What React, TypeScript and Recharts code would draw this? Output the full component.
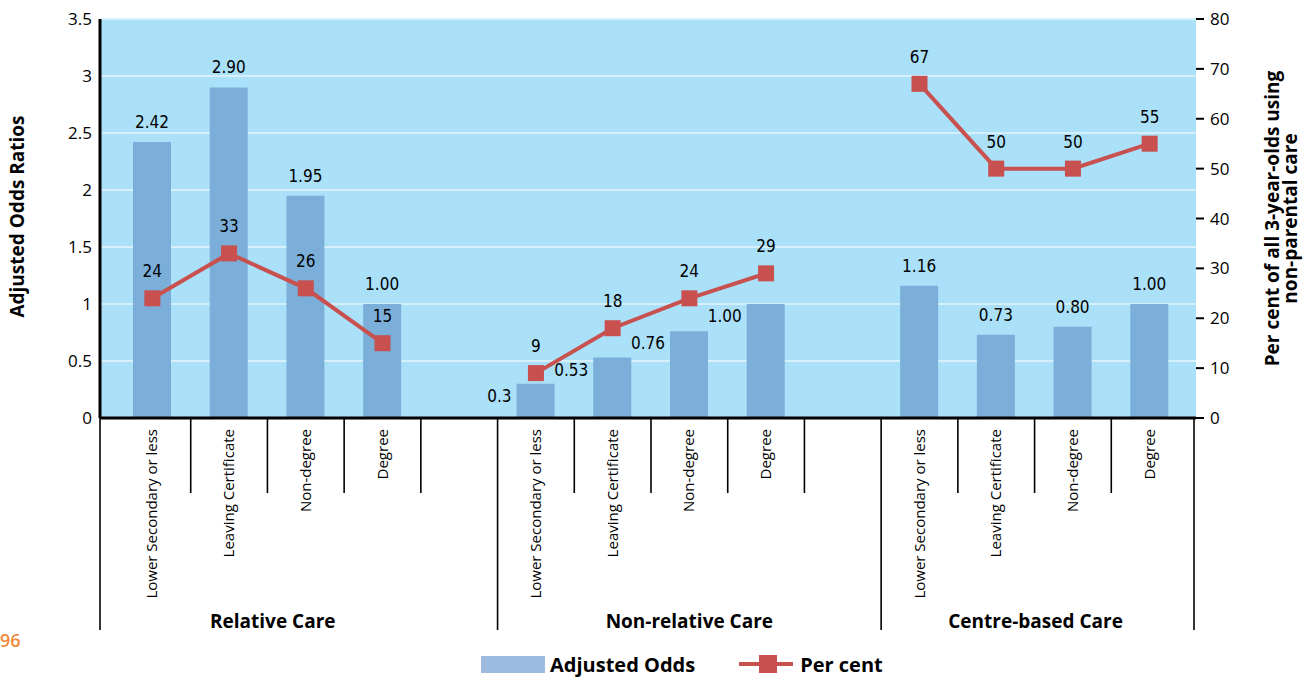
import {
  Bar,
  CartesianGrid,
  ComposedChart,
  LabelList,
  Legend,
  Line,
  XAxis,
  YAxis,
} from "recharts";

const groups = ["Relative Care", "Non-relative Care", "Centre-based Care"];
const levels = ["Lower Secondary or less", "Leaving Certificate", "Non-degree", "Degree"];

// adjusted odds ratios, kept as printed on the chart
const oddsRelative = ["2.42", "2.90", "1.95", "1.00"];
const oddsNonRelative = ["0.3", "0.53", "0.76", "1.00"];
const oddsCentre = ["1.16", "0.73", "0.80", "1.00"];

// per cent of all 3-year-olds using non-parental care
const pctRelative = [24, 33, 26, 15];
const pctNonRelative = [9, 18, 24, 29];
const pctCentre = [67, 50, 50, 55];

const oddsTicks = [0, 0.5, 1, 1.5, 2, 2.5, 3, 3.5];
const pctTicks = [0, 10, 20, 30, 40, 50, 60, 70, 80];

type Row = {
  key: string;
  level: string;
  group: number;
  levelIndex: number;
  odds: number | null;
  oddsText: string;
  pct: number | null;
};

const oddsByGroup = [oddsRelative, oddsNonRelative, oddsCentre];
const pctByGroup = [pctRelative, pctNonRelative, pctCentre];

const rows: Row[] = [];
groups.forEach((_, gi) => {
  if (gi > 0) {
    // empty slot between two care types
    rows.push({ key: `gap-${gi}`, level: "", group: gi - 1, levelIndex: -1, odds: null, oddsText: "", pct: null });
  }
  levels.forEach((level, li) => {
    rows.push({
      key: `${gi}-${li}`,
      level,
      group: gi,
      levelIndex: li,
      odds: Number(oddsByGroup[gi][li]),
      oddsText: oddsByGroup[gi][li],
      pct: pctByGroup[gi][li],
    });
  });
});

const WIDTH = 1303;
const HEIGHT = 678;
const PLOT_LEFT = 100;
const PLOT_RIGHT = 1196;
const PLOT_TOP = 19;
const AXIS_Y = 418;
const LEGEND_H = 28;
const PAD_L = 14;
const PAD_R = 8;
const BAND = (PLOT_RIGHT - PLOT_LEFT - PAD_L - PAD_R) / rows.length;
const GROUP_DX = [-26, 0, -2];

const BG = "#abe0f9";
const GRID = "#d6f0fb";
const BAR = "#7bafd9";
const LINE = "#c8504f";
const SANS = "'Open Sans', 'Noto Sans', sans-serif";
const NARROW = "'Liberation Sans Narrow', 'DejaVu Sans Condensed', 'Roboto Condensed', sans-serif";

// which slot a given x centre falls in
const slotAt = (cx: number) => Math.round((cx - PLOT_LEFT - PAD_L - BAND / 2) / BAND);

function XTick(props: any) {
  const { x, index } = props;
  const row = rows[index];
  if (!row) return null;
  const x0 = x - BAND / 2;
  const parts = [];
  if (row.levelIndex === 0) {
    const left = row.group === 0 ? PLOT_LEFT : x0;
    const right = row.group < groups.length - 1 ? x0 + 5 * BAND : PLOT_RIGHT - 2;
    parts.push(<line key="l" x1={left} x2={left} y1={AXIS_Y} y2={630} stroke="#000" strokeWidth={1.6} />);
    parts.push(
      <text
        key="g"
        x={(left + right) / 2 + GROUP_DX[row.group]}
        y={628}
        textAnchor="middle"
        fontFamily={SANS}
        fontWeight={700}
        fontSize={19}
        fill="#000"
      >
        {groups[row.group]}
      </text>
    );
  } else {
    parts.push(<line key="s" x1={x0} x2={x0} y1={AXIS_Y} y2={493} stroke="#000" strokeWidth={1.6} />);
  }
  if (index === rows.length - 1) {
    parts.push(
      <line key="r" x1={PLOT_RIGHT - 2} x2={PLOT_RIGHT - 2} y1={AXIS_Y} y2={630} stroke="#000" strokeWidth={1.6} />
    );
  }
  if (row.level) {
    parts.push(
      <text
        key="t"
        x={x + 5}
        y={AXIS_Y + 11}
        transform={`rotate(-90, ${x + 5}, ${AXIS_Y + 11})`}
        textAnchor="end"
        fontFamily={SANS}
        fontSize={15}
        fill="#000"
      >
        {row.level}
      </text>
    );
  }
  return <g>{parts}</g>;
}

function OddsLabel(props: any) {
  const { x, y, width } = props;
  if (x == null || y == null) return null;
  const row = rows[slotAt(x + width / 2)];
  if (!row || row.odds == null) return null;
  if (row.group === 1) {
    return (
      <text x={x - 5} y={y + 18} textAnchor="end" fontFamily={NARROW} fontSize={17} fill="#000">
        {row.oddsText}
      </text>
    );
  }
  return (
    <text x={x + width / 2} y={y - 14} textAnchor="middle" fontFamily={NARROW} fontSize={17} fill="#000">
      {row.oddsText}
    </text>
  );
}

function PctLabel(props: any) {
  const { x, y, value } = props;
  if (value == null || x == null || y == null) return null;
  return (
    <text x={x} y={y - 21} textAnchor="middle" fontFamily={NARROW} fontSize={17} fill="#000">
      {value}
    </text>
  );
}

function SquareDot(props: any) {
  const { cx, cy, index, value } = props;
  if (cx == null || cy == null || value == null) return <g key={`d-${index}`} />;
  return <rect key={`d-${index}`} x={cx - 8} y={cy - 8} width={16} height={16} fill={LINE} />;
}

function LeftTitle(props: any) {
  const vb = props.viewBox;
  const cx = vb.x + 24;
  const cy = vb.y + vb.height / 2 - 2;
  return (
    <text
      x={cx}
      y={cy}
      transform={`rotate(-90, ${cx}, ${cy})`}
      textAnchor="middle"
      fontFamily={SANS}
      fontWeight={700}
      fontSize={19}
      fill="#000"
    >
      Adjusted Odds Ratios
    </text>
  );
}

function RightTitle(props: any) {
  const vb = props.viewBox;
  const cy = vb.y + vb.height / 2;
  const x1 = vb.x + 83;
  const x2 = vb.x + 101;
  return (
    <g fontFamily={SANS} fontWeight={700} fontSize={19} fill="#000">
      <text x={x1} y={cy} transform={`rotate(-90, ${x1}, ${cy})`} textAnchor="middle">
        Per cent of all 3-year-olds using
      </text>
      <text x={x2} y={cy} transform={`rotate(-90, ${x2}, ${cy})`} textAnchor="middle">
        non-parental care
      </text>
    </g>
  );
}

function ChartLegend() {
  return (
    <div
      style={{
        display: "flex",
        alignItems: "center",
        height: LEGEND_H,
        paddingLeft: 481,
        fontFamily: SANS,
        fontWeight: 700,
        fontSize: 20,
        color: "#000",
      }}
    >
      <span style={{ display: "inline-block", width: 64, height: 17, background: "#9dbbe1" }} />
      <span style={{ marginLeft: 5 }}>Adjusted Odds</span>
      <svg width={54} height={20} style={{ marginLeft: 44 }}>
        <line x1={0} x2={54} y1={10} y2={10} stroke={LINE} strokeWidth={4} />
        <rect x={20} y={1} width={18} height={18} fill={LINE} />
      </svg>
      <span style={{ marginLeft: 7 }}>Per cent</span>
    </div>
  );
}

export default function App() {
  return (
    <div style={{ position: "absolute", left: 0, top: 0, width: WIDTH, height: HEIGHT, background: "#fff" }}>
      <ComposedChart
        width={WIDTH}
        height={HEIGHT}
        data={rows}
        margin={{ top: PLOT_TOP, right: 0, bottom: 0, left: 0 }}
        barSize={38}
      >
        <CartesianGrid yAxisId="left" vertical={false} fill={BG} stroke={GRID} strokeWidth={2} />
        <XAxis
          dataKey="key"
          height={HEIGHT - LEGEND_H - AXIS_Y}
          interval={0}
          padding={{ left: PAD_L, right: PAD_R }}
          tickLine={false}
          tickSize={0}
          tickMargin={0}
          axisLine={{ stroke: "#000", strokeWidth: 3 }}
          tick={<XTick />}
        />
        <YAxis
          yAxisId="left"
          width={PLOT_LEFT}
          domain={[0, 3.5]}
          ticks={oddsTicks}
          tickLine={false}
          axisLine={{ stroke: "#000", strokeWidth: 3 }}
          tick={{ fontFamily: SANS, fontSize: 17, fill: "#000" }}
          label={<LeftTitle />}
        />
        <YAxis
          yAxisId="right"
          orientation="right"
          width={WIDTH - PLOT_RIGHT}
          domain={[0, 80]}
          ticks={pctTicks}
          axisLine={false}
          tickLine={{ stroke: "#000", strokeWidth: 2 }}
          tickSize={8}
          tickMargin={6}
          tick={{ fontFamily: SANS, fontSize: 17, fill: "#000" }}
          label={<RightTitle />}
        />
        <Legend verticalAlign="bottom" height={LEGEND_H} content={<ChartLegend />} />
        <Bar yAxisId="left" dataKey="odds" name="Adjusted Odds" fill={BAR} isAnimationActive={false}>
          <LabelList dataKey="odds" content={<OddsLabel />} />
        </Bar>
        <Line
          yAxisId="right"
          dataKey="pct"
          name="Per cent"
          stroke={LINE}
          strokeWidth={4}
          dot={SquareDot}
          activeDot={false}
          connectNulls={false}
          isAnimationActive={false}
        >
          <LabelList dataKey="pct" content={<PctLabel />} />
        </Line>
      </ComposedChart>
      <div
        style={{
          position: "absolute",
          left: 0,
          top: 628,
          fontFamily: SANS,
          fontWeight: 600,
          fontSize: 18,
          color: "#f08a3a",
        }}
      >
        96
      </div>
    </div>
  );
}
